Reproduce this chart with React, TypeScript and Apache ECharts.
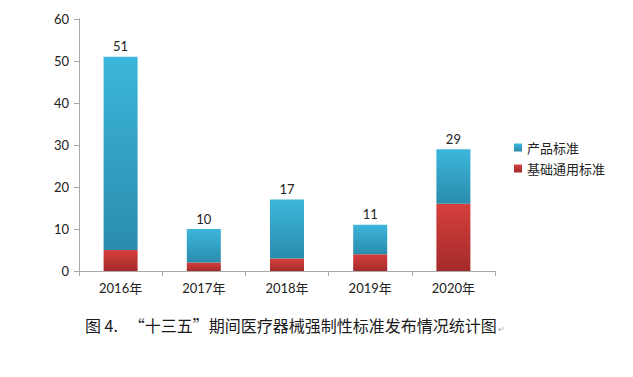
import React, { useEffect, useRef } from "react";
import * as echarts from "echarts";

const categories = ["2016年", "2017年", "2018年", "2019年", "2020年"];
const basicStd = [5, 2, 3, 4, 16];
const productStd = [46, 8, 14, 7, 13];
const totals = [51, 10, 17, 11, 29];
const yTicks = { min: 0, max: 60, interval: 10 };

export default function App() {
  const ref = useRef<HTMLDivElement>(null);
  useEffect(() => {
    document.body.style.margin = "0";
    const chart = echarts.init(ref.current!, undefined, { renderer: "svg" });
    const numFont = "Lato, 'Open Sans', sans-serif";
    chart.setOption({
      animation: false,
      backgroundColor: "#ffffff",
      grid: { left: 79, right: 138, top: 19, bottom: 106, containLabel: false },
      legend: {
        orient: "vertical",
        left: 509,
        top: 136,
        itemWidth: 8,
        itemHeight: 8,
        itemGap: 8,
        icon: "rect",
        textStyle: { fontFamily: "'Noto Sans CJK SC'", fontSize: 13, color: "#222" },
        data: ["产品标准", "基础通用标准"],
      },
      xAxis: {
        type: "category",
        data: categories,
        axisLine: { lineStyle: { color: "#a8a8a8" } },
        axisTick: { show: true, alignWithLabel: false, length: 5, lineStyle: { color: "#a8a8a8" } },
        axisLabel: { fontFamily: "Lato, 'Noto Sans CJK SC'", fontSize: 13, color: "#222", margin: 10 },
      },
      yAxis: {
        type: "value",
        min: yTicks.min,
        max: yTicks.max,
        interval: yTicks.interval,
        axisLine: { show: true, lineStyle: { color: "#a8a8a8" } },
        axisTick: { show: true, length: 5, lineStyle: { color: "#a8a8a8" } },
        splitLine: { show: false },
        axisLabel: { fontFamily: numFont, fontSize: 13, color: "#222", margin: 10 },
      },
      series: [
        {
          name: "基础通用标准",
          type: "bar",
          stack: "s",
          barWidth: 34,
          data: basicStd,
          itemStyle: {
            color: new echarts.graphic.LinearGradient(0, 0, 0, 1, [
              { offset: 0, color: "#d43f3c" },
              { offset: 1, color: "#a52b2b" },
            ]),
          },
        },
        {
          name: "产品标准",
          type: "bar",
          stack: "s",
          barWidth: 34,
          data: productStd,
          itemStyle: {
            color: new echarts.graphic.LinearGradient(0, 0, 0, 1, [
              { offset: 0, color: "#3cb6dc" },
              { offset: 1, color: "#2a8cac" },
            ]),
          },
          label: {
            show: true,
            position: "top",
            distance: 4,
            fontFamily: numFont,
            fontSize: 13,
            color: "#222",
            formatter: (p: any) => String(totals[p.dataIndex]),
          },
        },
      ],
      graphic: [
        {
          type: "text",
          left: 85,
          top: 317,
          style: {
            text: "图 4.   “十三五”期间医疗器械强制性标准发布情况统计图",
            fontFamily: "'Noto Sans CJK SC'",
            fontSize: 16,
            fontWeight: "normal",
            fill: "#1a1a1a",
          },
        },
        {
          type: "text",
          left: 498,
          top: 325,
          style: { text: "↵", fontSize: 8, fill: "#aaa" },
        },
      ],
    });
    return () => chart.dispose();
  }, []);
  return <div ref={ref} style={{ width: 633, height: 377 }} />;
}
